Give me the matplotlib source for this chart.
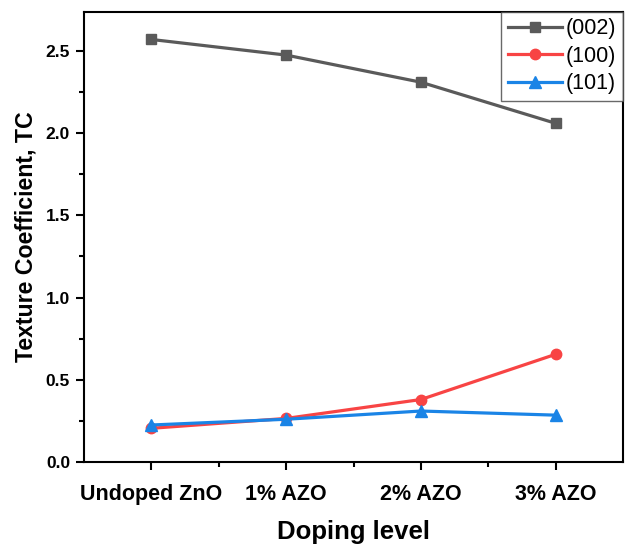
import matplotlib
matplotlib.use("Agg")
import matplotlib.pyplot as plt
from matplotlib.ticker import MultipleLocator, FixedLocator

categories = ["Undoped ZnO", "1% AZO", "2% AZO", "3% AZO"]
tc_002 = [2.57, 2.475, 2.31, 2.06]
tc_100 = [0.205, 0.265, 0.38, 0.655]
tc_101 = [0.225, 0.26, 0.31, 0.285]

plt.rcParams['font.family'] = ['Liberation Sans', 'DejaVu Sans']

fig = plt.figure(figsize=(6.26, 5.45), dpi=100)
ax = fig.add_axes([84/626, 1-462/545, (623-84)/626, (462-12)/545])

x = list(range(len(categories)))
ax.plot(x, tc_002, color='#5a5a5a', marker='s', markersize=7, lw=2.3, label='(002)')
ax.plot(x, tc_100, color='#f84444', marker='o', markersize=7.5, lw=2.3, label='(100)')
ax.plot(x, tc_101, color='#1a84e6', marker='^', markersize=8, lw=2.3, label='(101)')

ax.set_xlim(-0.5, 3.5)
ax.set_ylim(0, 2.737)
ax.set_xticks(x)
ax.set_xticklabels(categories, fontsize=15.5, fontweight='bold')
ax.xaxis.set_minor_locator(FixedLocator([0.5, 1.5, 2.5]))
ax.yaxis.set_minor_locator(MultipleLocator(0.25))
ax.set_yticks([0, 0.5, 1.0, 1.5, 2.0, 2.5])
ax.set_yticklabels(['0.0', '0.5', '1.0', '1.5', '2.0', '2.5'], fontsize=12.5, fontweight='bold')
ax.tick_params(which='major', direction='out', length=6, width=1.5, pad=4)
ax.tick_params(which='minor', direction='out', length=3.5, width=1.5)
ax.tick_params(axis='x', which='major', pad=10)
for s in ax.spines.values():
    s.set_linewidth(1.5)

ax.set_xlabel('Doping level', fontsize=18.5, fontweight='bold', labelpad=11)
ax.set_ylabel('Texture Coefficient, TC', fontsize=16.7, fontweight='bold', labelpad=6)

leg = ax.legend(loc='upper right', fontsize=15.5, frameon=True, fancybox=False,
                edgecolor='#444444', borderaxespad=0.0, handlelength=2.5,
                borderpad=0.3, labelspacing=0.3, handletextpad=0.2)
leg.get_frame().set_linewidth(1.0)

fig.savefig('out.png', dpi=100)
